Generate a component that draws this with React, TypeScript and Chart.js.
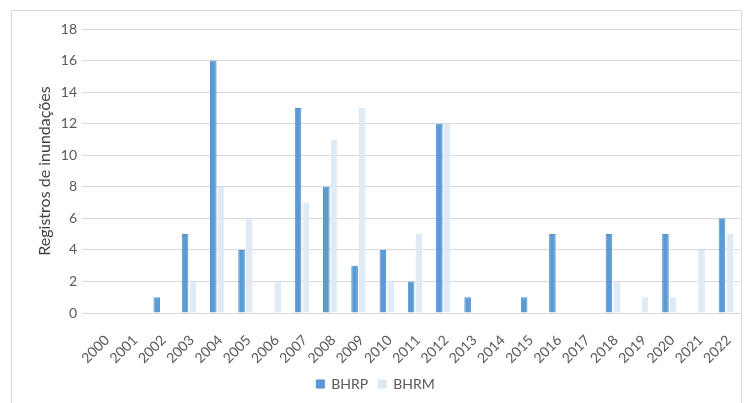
import React, { useEffect, useRef } from "react";
import { Chart, registerables } from "chart.js";

Chart.register(...registerables);

const years = ["2000","2001","2002","2003","2004","2005","2006","2007","2008","2009","2010","2011","2012","2013","2014","2015","2016","2017","2018","2019","2020","2021","2022"];
const bhrp = [0,0,1,5,16,4,0,13,8,3,4,2,12,1,0,1,5,0,5,0,5,0,6];
const bhrm = [0,0,0,2,8,6,2,7,11,13,2,5,12,0,0,0,0,0,2,1,1,4,5];
const yTicks = [0,2,4,6,8,10,12,14,16,18];

const FONT = "Lato, 'Liberation Sans', sans-serif";

export default function App() {
  const ref = useRef<HTMLCanvasElement>(null);
  useEffect(() => {
    if (!ref.current) return;
    const chart = new Chart(ref.current, {
      type: "bar",
      data: {
        labels: years,
        datasets: [
          { label: "BHRP", data: bhrp, backgroundColor: "#5B9BD5", borderColor: "#5090CE", borderWidth: 1, categoryPercentage: 0.55, barPercentage: 0.85 },
          { label: "BHRM", data: bhrm, backgroundColor: "#DEEBF7", borderColor: "#D8E6F4", borderWidth: 1, categoryPercentage: 0.55, barPercentage: 0.85 },
        ],
      },
      options: {
        animation: false,
        responsive: false,
        maintainAspectRatio: false,
        layout: { padding: { left: 11, right: 10, top: 29, bottom: 2 } },
        plugins: {
          tooltip: { enabled: false },
          legend: {
            position: "bottom",
            labels: { boxWidth: 8, boxHeight: 8, padding: 10, color: "#595959", font: { family: FONT, size: 14 } },
          },
        },
        scales: {
          x: {
            grid: { display: false },
            border: { display: true, color: "#D9D9D9" },
            ticks: { color: "#595959", font: { family: FONT, size: 14 }, minRotation: 45, maxRotation: 45, autoSkip: false, padding: 11, labelOffset: 3 },
            afterFit: (s: any) => { s.height = 54; },
          },
          y: {
            min: 0,
            max: 18,
            afterBuildTicks: (s: any) => { s.ticks = yTicks.map((v) => ({ value: v })); },
            grid: { color: "#D9D9D9", lineWidth: 1 },
            border: { display: false },
            ticks: { color: "#595959", font: { family: FONT, size: 14 }, padding: 5 },
            title: { display: true, text: "Registros de inundações", color: "#404040", font: { family: FONT, size: 16 }, padding: { top: 24, bottom: 0 } },
            afterFit: (s: any) => { s.width = 79; },
          },
        },
      },
    });
    return () => chart.destroy();
  }, []);
  return (
    <div style={{ position: "fixed", left: 0, top: 0, width: 750, height: 403, background: "#fff" }}>
      <div style={{ position: "absolute", left: 11, top: 10, width: 731, height: 400, border: "1px solid #D9D9D9", boxSizing: "border-box" }} />
      <canvas ref={ref} width={750} height={403} style={{ position: "absolute", left: 0, top: 0 }} />
    </div>
  );
}
